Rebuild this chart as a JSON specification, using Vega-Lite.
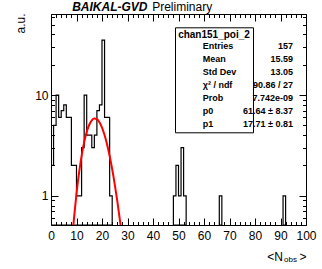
{
  "$schema": "https://vega.github.io/schema/vega-lite/v6.json",
  "width": 255,
  "height": 211,
  "autosize": {"type": "none"},
  "padding": {"left": 51, "top": 14, "right": 16, "bottom": 44},
  "background": "white",
  "config": {
    "view": {"stroke": "black", "strokeWidth": 1},
    "font": "Liberation Sans",
    "axis": {"grid": false, "domain": false, "labelFont": "Liberation Sans", "titleFont": "Liberation Sans", "labelColor": "black", "titleColor": "black", "tickColor": "black", "titleFontWeight": "normal"}
  },
  "title": {"text": "obs", "orient": "bottom", "anchor": "end", "frame": "group", "fontSize": 8, "font": "Liberation Sans", "fontWeight": "normal", "color": "black", "offset": -6, "dx": -9},
  "datasets": {
    "hist": [
      {"b": 0, "lo": 0, "hi": 1, "n": 2, "g": "A"},
      {"b": 1, "lo": 1, "hi": 2, "n": 5, "g": "A"},
      {"b": 2, "lo": 2, "hi": 3, "n": 10, "g": "A"},
      {"b": 3, "lo": 3, "hi": 4, "n": 6, "g": "A"},
      {"b": 4, "lo": 4, "hi": 5, "n": 7, "g": "A"},
      {"b": 5, "lo": 5, "hi": 6, "n": 8, "g": "A"},
      {"b": 6, "lo": 6, "hi": 7, "n": 6, "g": "A"},
      {"b": 7, "lo": 7, "hi": 8, "n": 6, "g": "A"},
      {"b": 8, "lo": 8, "hi": 9, "n": 2, "g": "A"},
      {"b": 9, "lo": 9, "hi": 10, "n": 2, "g": "A"},
      {"b": 10, "lo": 10, "hi": 11, "n": 1, "g": "A"},
      {"b": 11, "lo": 11, "hi": 12, "n": 1, "g": "A"},
      {"b": 12, "lo": 12, "hi": 13, "n": 3, "g": "A"},
      {"b": 13, "lo": 13, "hi": 14, "n": 10, "g": "A"},
      {"b": 14, "lo": 14, "hi": 15, "n": 4, "g": "A"},
      {"b": 15, "lo": 15, "hi": 16, "n": 4, "g": "A"},
      {"b": 16, "lo": 16, "hi": 17, "n": 3, "g": "A"},
      {"b": 17, "lo": 17, "hi": 18, "n": 4, "g": "A"},
      {"b": 18, "lo": 18, "hi": 19, "n": 7, "g": "A"},
      {"b": 19, "lo": 19, "hi": 20, "n": 8, "g": "A"},
      {"b": 20, "lo": 20, "hi": 21, "n": 35, "g": "A"},
      {"b": 21, "lo": 21, "hi": 22, "n": 6, "g": "A"},
      {"b": 22, "lo": 22, "hi": 23, "n": 6, "g": "A"},
      {"b": 23, "lo": 23, "hi": 24, "n": 1, "g": "A"},
      {"b": 48, "lo": 48, "hi": 49, "n": 1, "g": "B"},
      {"b": 49, "lo": 49, "hi": 50, "n": 2, "g": "B"},
      {"b": 50, "lo": 50, "hi": 51, "n": 1, "g": "B"},
      {"b": 51, "lo": 51, "hi": 52, "n": 3, "g": "B"},
      {"b": 52, "lo": 52, "hi": 53, "n": 1, "g": "B"},
      {"b": 66, "lo": 66, "hi": 67, "n": 1, "g": "C"},
      {"b": 91, "lo": 91, "hi": 92, "n": 1, "g": "D"}
    ],
    "fit": [
      {"x": 8, "f": 0.301}, {"x": 9, "f": 0.5925}, {"x": 10, "f": 1.0493}, {"x": 11, "f": 1.6893},
      {"x": 12, "f": 2.4931}, {"x": 13, "f": 3.3967}, {"x": 14, "f": 4.2967}, {"x": 15, "f": 5.0723},
      {"x": 16, "f": 5.6143}, {"x": 17, "f": 5.849}, {"x": 18, "f": 5.755}, {"x": 19, "f": 5.364},
      {"x": 20, "f": 4.75}, {"x": 21, "f": 4.005}, {"x": 22, "f": 3.2245}, {"x": 23, "f": 2.483},
      {"x": 24, "f": 1.832}, {"x": 25, "f": 1.298}, {"x": 26, "f": 0.884}, {"x": 27, "f": 0.58},
      {"x": 28, "f": 0.369}
    ],
    "stats": [
      {"k": "Entries", "v": "157"},
      {"k": "Mean", "v": "15.59"},
      {"k": "Std Dev", "v": "13.05"},
      {"k": "χ² / ndf", "v": "90.86 / 27"},
      {"k": "Prob", "v": "7.742e-09"},
      {"k": "p0", "v": "61.64 ± 8.37"},
      {"k": "p1", "v": "17.71 ± 0.81"}
    ]
  },
  "layer": [
    {
      "data": {"name": "hist"},
      "transform": [{"fold": ["lo", "hi"], "as": ["edge", "xv"]}],
      "mark": {"type": "area", "filled": false, "stroke": "black", "strokeWidth": 1.2, "interpolate": "linear", "clip": true},
      "encoding": {
        "x": {
          "field": "xv", "type": "quantitative",
          "scale": {"domain": [0, 100], "nice": false, "zero": false},
          "axis": {
            "orient": "bottom",
            "values": [0,2,4,6,8,10,12,14,16,18,20,22,24,26,28,30,32,34,36,38,40,42,44,46,48,50,52,54,56,58,60,62,64,66,68,70,72,74,76,78,80,82,84,86,88,90,92,94,96,98,100],
            "tickSize": {"condition": {"test": "datum.value % 10 === 0", "value": -7}, "value": -3.5},
            "labelExpr": "datum.value % 10 === 0 ? datum.label : ''",
            "labelFontSize": 12, "labelPadding": 21, "labelBaseline": "alphabetic", "labelFlush": false, "labelOverlap": false,
            "title": "<N\u00a0\u00a0\u00a0\u00a0\u00a0>", "titleFontSize": 12, "titleAnchor": "end", "titleAlign": "right",
            "titleX": 255, "titleY": 35, "titleBaseline": "alphabetic"
          }
        },
        "y": {
          "field": "n", "type": "quantitative", "stack": null,
          "scale": {"type": "log", "domain": [0.513, 63.7], "nice": false},
          "axis": {
            "orient": "left",
            "values": [0.6,0.7,0.8,0.9,1,2,3,4,5,6,7,8,9,10,20,30,40,50,60],
            "tickSize": {"condition": {"test": "datum.value === 1 || datum.value === 10", "value": -7}, "value": -3.5},
            "labelExpr": "datum.value === 1 ? '1' : datum.value === 10 ? '10' : ''",
            "labelFontSize": 12, "labelPadding": 10, "labelOverlap": false,
            "title": "a.u.", "titleFontSize": 12, "titleAngle": 270, "titleX": -27, "titleY": -1,
            "titleAlign": "right", "titleBaseline": "alphabetic"
          }
        },
        "detail": {"field": "g", "type": "nominal"}
      }
    },
    {
      "data": {"name": "fit"},
      "mark": {"type": "line", "color": "#ff0000", "strokeWidth": 2, "interpolate": "monotone", "clip": true},
      "encoding": {
        "x": {
          "field": "x", "type": "quantitative",
          "scale": {"domain": [0, 100], "nice": false, "zero": false},
          "axis": {
            "orient": "top",
            "values": [0,2,4,6,8,10,12,14,16,18,20,22,24,26,28,30,32,34,36,38,40,42,44,46,48,50,52,54,56,58,60,62,64,66,68,70,72,74,76,78,80,82,84,86,88,90,92,94,96,98,100],
            "tickSize": {"condition": {"test": "datum.value % 10 === 0", "value": -7}, "value": -3.5},
            "labels": false,
            "title": "Preliminary", "titleFontSize": 12, "titleFontWeight": "normal",
            "titleX": 100.7, "titleY": -4, "titleAlign": "left", "titleBaseline": "alphabetic", "titleAnchor": "start"
          }
        },
        "y": {
          "field": "f", "type": "quantitative",
          "scale": {"type": "log", "domain": [0.513, 63.7], "nice": false},
          "axis": {
            "orient": "right",
            "values": [0.6,0.7,0.8,0.9,1,2,3,4,5,6,7,8,9,10,20,30,40,50,60],
            "tickSize": {"condition": {"test": "datum.value === 1 || datum.value === 10", "value": -7}, "value": -3.5},
            "labels": false,
            "title": "BAIKAL-GVD", "titleFontSize": 12, "titleFontWeight": "bold", "titleFontStyle": "italic",
            "titleAngle": 0, "titleX": -234.3, "titleY": -4, "titleAlign": "left", "titleBaseline": "alphabetic"
          }
        }
      }
    },
    {
      "data": {"name": "stats"},
      "mark": {"type": "point", "opacity": 0},
      "encoding": {
        "color": {
          "field": "k", "type": "nominal",
          "scale": {"domain": ["Entries", "Mean", "Std Dev", "χ² / ndf", "Prob", "p0", "p1"], "range": ["black","black","black","black","black","black","black"]},
          "legend": {
            "orient": "none", "legendX": 124, "legendY": 13.3,
            "title": "\u00a0\u00a0\u00a0\u00a0\u00a0\u00a0\u00a0chan151_poi_2\u00a0\u00a0\u00a0\u00a0\u00a0\u00a0\u00a0",
            "titleFont": "Liberation Sans", "titleFontSize": 10, "titleFontWeight": "bold", "titleColor": "black",
            "titleAnchor": "middle", "titlePadding": 1,
            "labelFont": "Liberation Sans", "labelFontSize": 9, "labelFontWeight": "bold", "labelColor": "black",
            "symbolSize": 0, "symbolStrokeWidth": 0, "symbolOpacity": 0, "labelOffset": 2.7,
            "rowPadding": 3, "padding": 3, "strokeColor": "black", "fillColor": "white"
          }
        },
        "shape": {
          "field": "v", "type": "nominal",
          "scale": {"domain": ["157", "15.59", "13.05", "90.86 / 27", "7.742e-09", "61.64 ± 8.37", "17.71 ± 0.81"]},
          "legend": {
            "orient": "none", "legendX": 233, "legendY": 27.2,
            "title": null,
            "labelFont": "Liberation Sans", "labelFontSize": 9, "labelFontWeight": "bold", "labelColor": "black",
            "labelAlign": "right",
            "symbolSize": 0, "symbolStrokeWidth": 0, "symbolOpacity": 0, "labelOffset": 0,
            "rowPadding": 3, "padding": 0
          }
        }
      }
    }
  ],
  "resolve": {"axis": {"x": "independent", "y": "independent"}}
}
